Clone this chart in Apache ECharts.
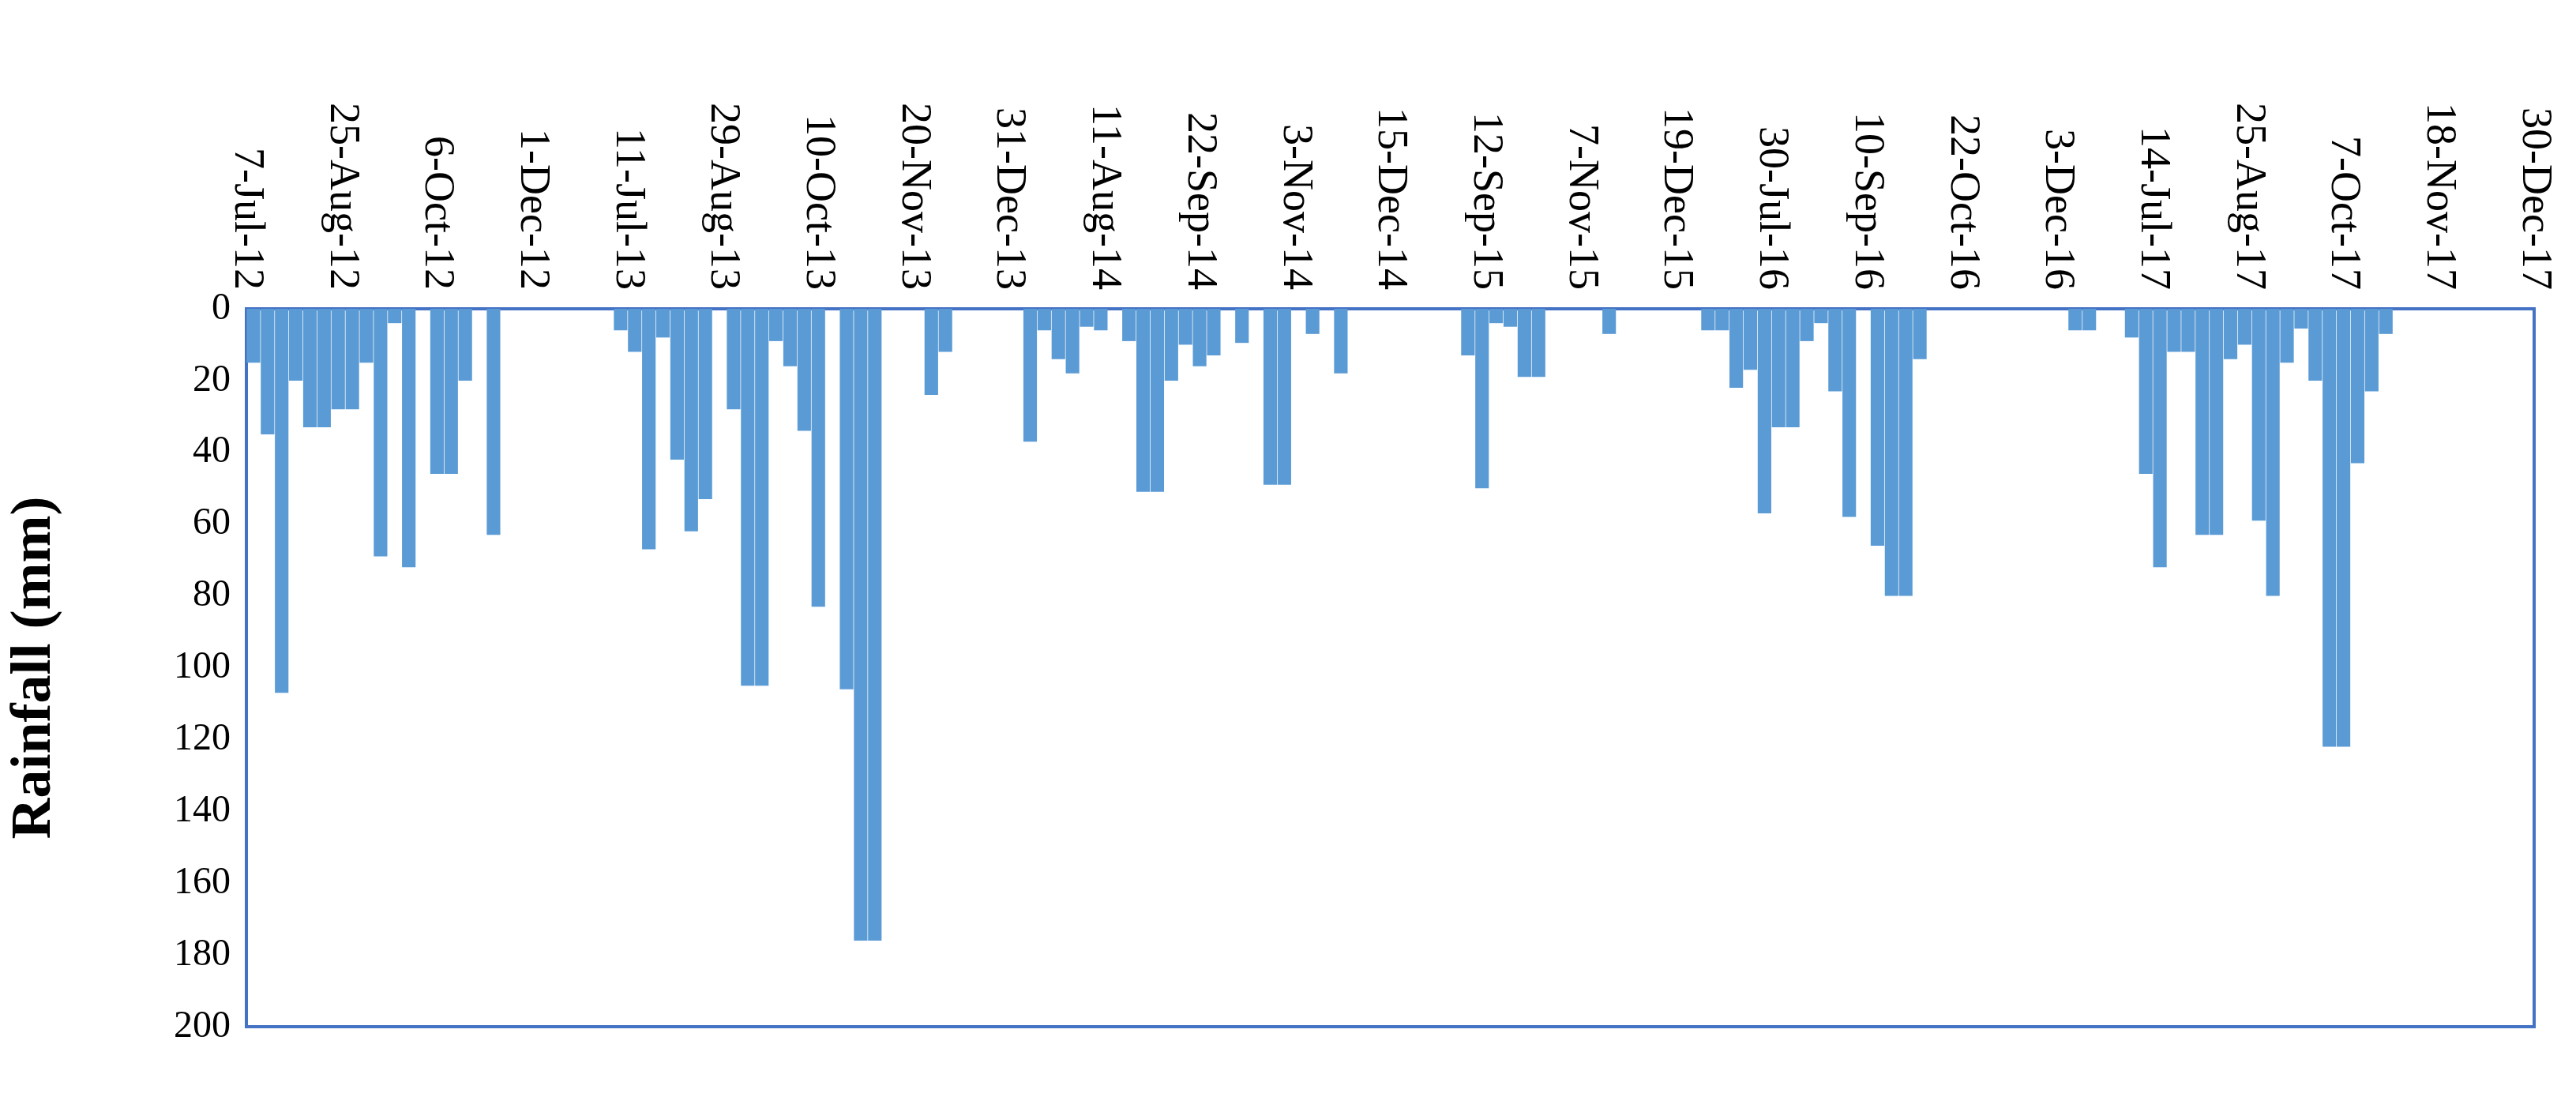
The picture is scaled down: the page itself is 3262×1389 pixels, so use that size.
<!DOCTYPE html>
<html>
<head>
<meta charset="utf-8">
<script src="https://cdn.jsdelivr.net/npm/echarts@6/dist/echarts.min.js"></script>
<style>
html, body { margin: 0; padding: 0; background: #fff; }
#chart { width: 3262px; height: 1389px; }
</style>
</head>
<body>
<div id="chart"></div>
<script>
// date labels spread evenly along the top edge
var tickLabels = ["7-Jul-12", "25-Aug-12", "6-Oct-12", "1-Dec-12", "11-Jul-13", "29-Aug-13",
    "10-Oct-13", "20-Nov-13", "31-Dec-13", "11-Aug-14", "22-Sep-14", "3-Nov-14",
    "15-Dec-14", "12-Sep-15", "7-Nov-15", "19-Dec-15", "30-Jul-16", "10-Sep-16",
    "22-Oct-16", "3-Dec-16", "14-Jul-17", "25-Aug-17", "7-Oct-17", "18-Nov-17", "30-Dec-17"];

var rainfall = [
    15, 35, 107, 20, 33, 33, 28, 28, 15, 69, 4, 72, 0, 46, 46, 20, 0, 63, 0, 0,
    0, 0, 0, 0, 0, 0, 6, 12, 67, 8, 42, 62, 53, 0, 28, 105, 105, 9, 16, 34,
    83, 0, 106, 176, 176, 0, 0, 0, 24, 12, 0, 0, 0, 0, 0, 37, 6, 14, 18, 5,
    6, 0, 9, 51, 51, 20, 10, 16, 13, 0, 9.5, 0, 49, 49, 0, 7, 0, 18, 0, 0,
    0, 0, 0, 0, 0, 0, 13, 50, 4, 5, 19, 19, 0, 0, 0, 0, 7, 0, 0, 0,
    0, 0, 0, 6, 6, 22, 17, 57, 33, 33, 9, 4, 23, 58, 0, 66, 80, 80, 14, 0,
    0, 0, 0, 0, 0, 0, 0, 0, 0, 6, 6, 0, 0, 8, 46, 72, 12, 12, 63, 63,
    14, 10, 59, 80, 15, 5.5, 20, 122, 122, 43, 23, 7, 0, 0, 0, 0, 0, 0, 0, 0,
    0, 0
];

var yTicks = { min: 0, max: 200, interval: 20 };

var categories = rainfall.map(function (v, i) { return "d" + i; });

var chart = echarts.init(document.getElementById("chart"));
chart.setOption({
    animation: false,
    grid: {
        left: 307, top: 391, right: 53, bottom: 89,
        show: true, borderColor: "#4472C4", borderWidth: 4, backgroundColor: "#fff"
    },
    xAxis: [{
        type: "category",
        data: categories,
        show: false
    }, {
        type: "category",
        position: "top",
        data: tickLabels,
        boundaryGap: false,
        axisLine: { show: false },
        axisTick: { show: false },
        axisLabel: {
            interval: 0,
            rotate: 90,
            margin: 24,
            fontFamily: "Liberation Serif",
            fontSize: 54,
            color: "#000"
        }
    }],
    yAxis: {
        type: "value",
        inverse: true,
        min: yTicks.min,
        max: yTicks.max,
        interval: yTicks.interval,
        name: "Rainfall (mm)",
        nameLocation: "middle",
        nameGap: 232,
        nameTextStyle: { fontFamily: "Liberation Serif", fontSize: 72, fontWeight: "bold", color: "#000" },
        splitLine: { show: false },
        axisLine: { show: false },
        axisTick: { show: false },
        axisLabel: { fontFamily: "Liberation Serif", fontSize: 48, color: "#000", margin: 20 }
    },
    series: [{
        type: "bar",
        xAxisIndex: 0,
        data: rainfall,
        barCategoryGap: "4%",
        itemStyle: { color: "#5B9BD5" }
    }]
});
</script>
</body>
</html>
